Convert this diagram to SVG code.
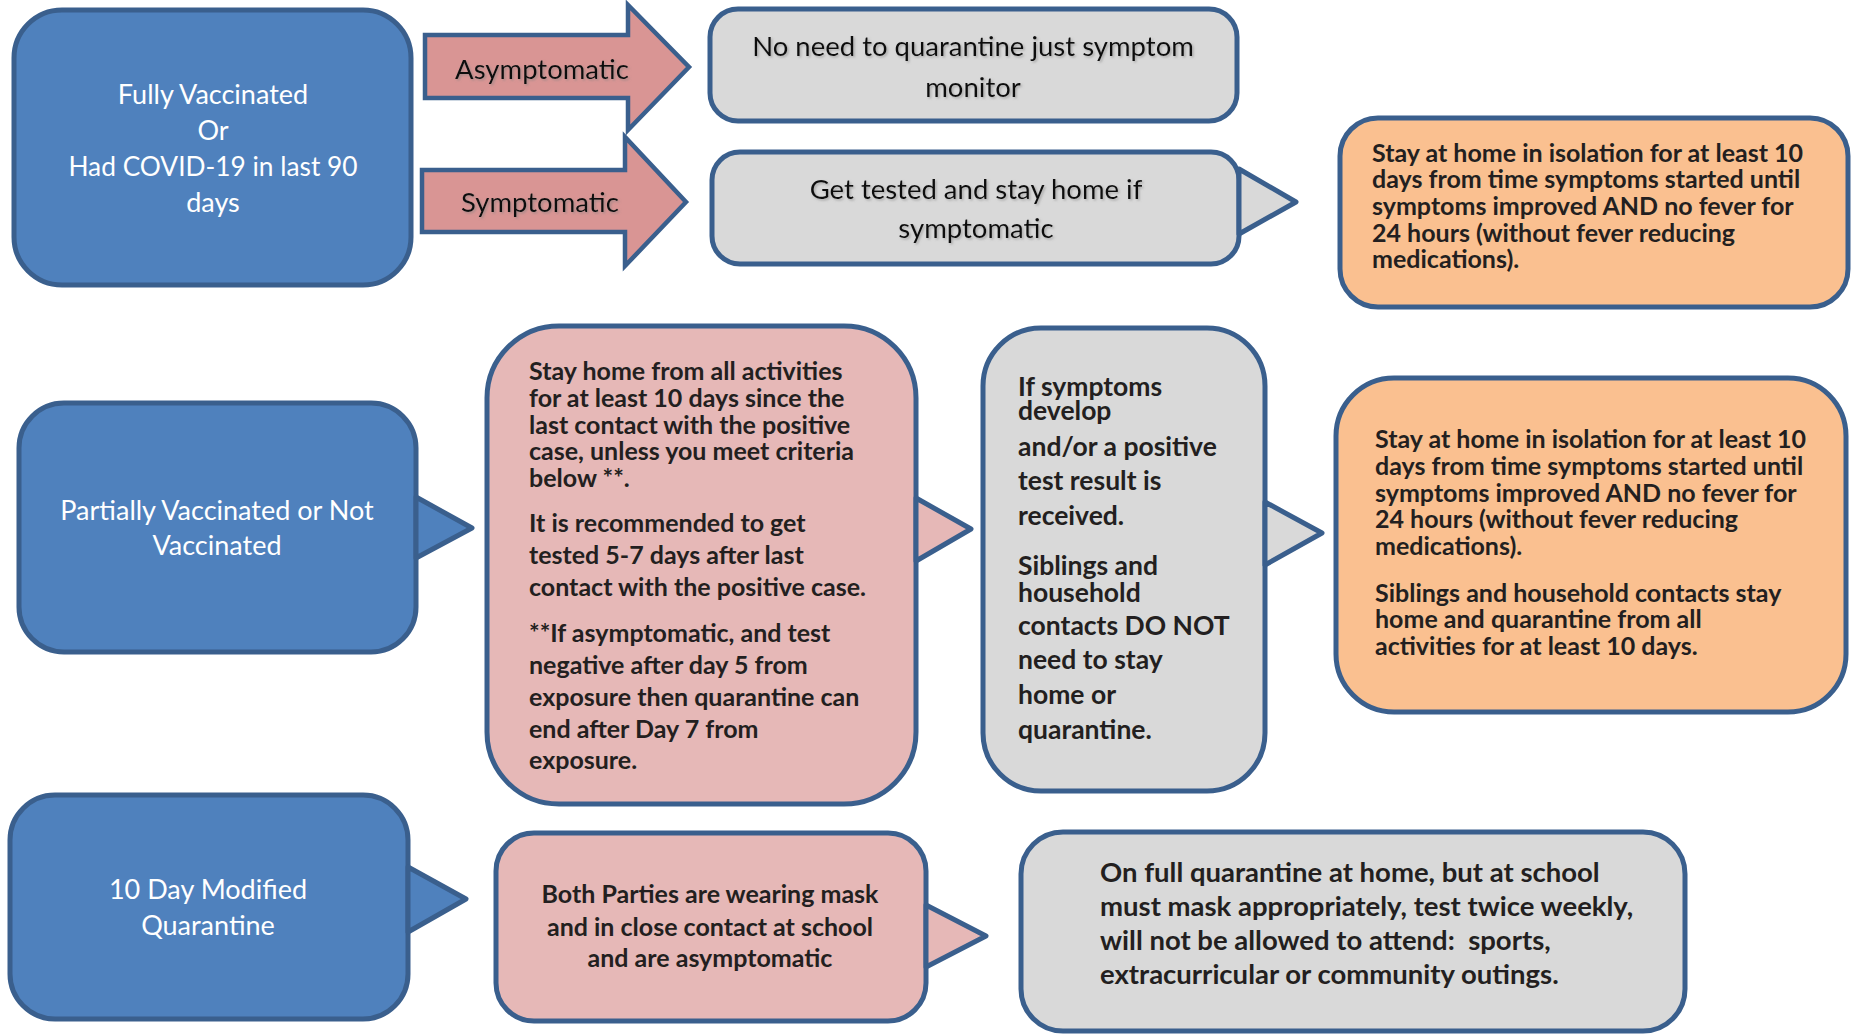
<svg xmlns="http://www.w3.org/2000/svg" width="1852" height="1034" viewBox="0 0 1852 1034">
<defs>
<style>
.box{stroke:#3A5F8D;stroke-width:5;stroke-linejoin:round}
.blue{fill:#4F81BD}
.gray{fill:#D9D9D9}
.pink{fill:#E6B8B7}
.orange{fill:#FAC090}
.arrow{fill:#D99594;stroke:#3A5F8D;stroke-width:4.5;stroke-linejoin:miter}
.wt{font-family:Lato,"Open Sans","Liberation Sans",sans-serif;font-size:27px;fill:#FFFFFF;text-anchor:middle}
.rt{font-family:Lato,"Open Sans","Liberation Sans",sans-serif;font-size:27.5px;fill:#111111;text-anchor:middle}
.bt{font-family:Lato,"Open Sans","Liberation Sans",sans-serif;font-size:25px;font-weight:bold;fill:#231F20}
.bm{font-family:Lato,"Open Sans","Liberation Sans",sans-serif;font-size:26.5px;font-weight:bold;fill:#231F20}
.btc{font-family:Lato,"Open Sans","Liberation Sans",sans-serif;font-size:25px;font-weight:bold;fill:#231F20;text-anchor:middle}
.bb{font-family:Lato,"Open Sans","Liberation Sans",sans-serif;font-size:27.5px;font-weight:bold;fill:#231F20;white-space:pre}
</style>
<filter id="ts" x="-5%" y="-20%" width="110%" height="140%">
<feDropShadow dx="1.5" dy="1.5" stdDeviation="1" flood-color="#7F7F7F" flood-opacity="0.55"/>
</filter>
</defs>
<rect width="1852" height="1034" fill="#FFFFFF"/>

<g id="connectors">
<g id="arrow-asymptomatic">
<polygon class="arrow" points="425,35 628,35 628,5 689,67 628,130 628,98 425,98"/>
<text class="rt" x="542" y="79" filter="url(#ts)">Asymptomatic</text>
</g>
<g id="arrow-symptomatic">
<polygon class="arrow" points="422,170 625,170 625,137 686,202 625,266 625,232 422,232"/>
<text class="rt" x="540" y="212" filter="url(#ts)">Symptomatic</text>
</g>
</g>

<g id="node-fully-vaccinated">
<rect class="box blue" x="14" y="10" width="397" height="275" rx="48"/>
<text class="wt" x="213" y="104">Fully Vaccinated</text>
<text class="wt" x="213" y="140">Or</text>
<text class="wt" x="213" y="176" style="font-size:26.3px">Had COVID-19 in last 90</text>
<text class="wt" x="213" y="212">days</text>
</g>

<g id="node-no-need">
<rect class="box gray" x="710" y="9" width="527" height="112" rx="28"/>
<text class="rt" x="973" y="56" filter="url(#ts)">No need to quarantine just symptom</text>
<text class="rt" x="973" y="97" filter="url(#ts)">monitor</text>
</g>

<g id="node-get-tested">
<rect class="box gray" x="712" y="152" width="527" height="112" rx="28"/>
<polygon class="box gray" points="1239,169 1296,202 1239,234"/>
<text class="rt" x="976" y="199" filter="url(#ts)">Get tested and stay home if</text>
<text class="rt" x="976" y="238" filter="url(#ts)">symptomatic</text>
</g>

<g id="node-isolation-1">
<rect class="box orange" x="1340" y="118" width="508" height="189" rx="38"/>
<text class="bt" x="1372" y="162">Stay at home in isolation for at least 10</text>
<text class="bt" x="1372" y="188">days from time symptoms started until</text>
<text class="bt" x="1372" y="215">symptoms improved AND no fever for</text>
<text class="bt" x="1372" y="242">24 hours (without fever reducing</text>
<text class="bt" x="1372" y="268">medications).</text>
</g>

<g id="node-partially-vaccinated">
<rect class="box blue" x="19" y="403" width="397" height="249" rx="45"/>
<polygon class="box blue" points="416,497 472,528 416,558"/>
<text class="wt" x="217" y="520">Partially Vaccinated or Not</text>
<text class="wt" x="217" y="555">Vaccinated</text>
</g>

<g id="node-stay-home">
<rect class="box pink" x="487" y="326" width="429" height="478" rx="72"/>
<polygon class="box pink" points="916,498 971,529 916,561"/>
<text class="bt" x="529" y="380">Stay home from all activities</text>
<text class="bt" x="529" y="407">for at least 10 days since the</text>
<text class="bt" x="529" y="434">last contact with the positive</text>
<text class="bt" x="529" y="460">case, unless you meet criteria</text>
<text class="bt" x="529" y="487">below **.</text>
<text class="bt" x="529" y="532">It is recommended to get</text>
<text class="bt" x="529" y="564">tested 5-7 days after last</text>
<text class="bt" x="529" y="596">contact with the positive case.</text>
<text class="bt" x="529" y="642">**If asymptomatic, and test</text>
<text class="bt" x="529" y="674">negative after day 5 from</text>
<text class="bt" x="529" y="706">exposure then quarantine can</text>
<text class="bt" x="529" y="738">end after Day 7 from</text>
<text class="bt" x="529" y="769">exposure.</text>
</g>

<g id="node-if-symptoms">
<rect class="box gray" x="983" y="328" width="282" height="463" rx="58"/>
<polygon class="box gray" points="1265,502 1322,533 1265,565"/>
<text class="bm" x="1018" y="396">If symptoms</text>
<text class="bm" x="1018" y="420">develop</text>
<text class="bm" x="1018" y="456">and/or a positive</text>
<text class="bm" x="1018" y="490">test result is</text>
<text class="bm" x="1018" y="525">received.</text>
<text class="bm" x="1018" y="575">Siblings and</text>
<text class="bm" x="1018" y="602">household</text>
<text class="bm" x="1018" y="635">contacts DO NOT</text>
<text class="bm" x="1018" y="669">need to stay</text>
<text class="bm" x="1018" y="704">home or</text>
<text class="bm" x="1018" y="739">quarantine.</text>
</g>

<g id="node-isolation-2">
<rect class="box orange" x="1336" y="378" width="510" height="334" rx="58"/>
<text class="bt" x="1375" y="448">Stay at home in isolation for at least 10</text>
<text class="bt" x="1375" y="475">days from time symptoms started until</text>
<text class="bt" x="1375" y="502">symptoms improved AND no fever for</text>
<text class="bt" x="1375" y="528">24 hours (without fever reducing</text>
<text class="bt" x="1375" y="555">medications).</text>
<text class="bt" x="1375" y="602">Siblings and household contacts stay</text>
<text class="bt" x="1375" y="628">home and quarantine from all</text>
<text class="bt" x="1375" y="655">activities for at least 10 days.</text>
</g>

<g id="node-modified-quarantine">
<rect class="box blue" x="10" y="795" width="398" height="224" rx="45"/>
<polygon class="box blue" points="408,867 466,899 408,932"/>
<text class="wt" x="208" y="899">10 Day Modified</text>
<text class="wt" x="208" y="935">Quarantine</text>
</g>

<g id="node-both-parties">
<rect class="box pink" x="496" y="833" width="430" height="188" rx="38"/>
<polygon class="box pink" points="926,905 986,936 926,967"/>
<text class="btc" x="710" y="903">Both Parties are wearing mask</text>
<text class="btc" x="710" y="936">and in close contact at school</text>
<text class="btc" x="710" y="967">and are asymptomatic</text>
</g>

<g id="node-full-quarantine">
<rect class="box gray" x="1021" y="832" width="664" height="199" rx="42"/>
<text class="bb" x="1100" y="882">On full quarantine at home, but at school</text>
<text class="bb" x="1100" y="916">must mask appropriately, test twice weekly,</text>
<text class="bb" x="1100" y="950" xml:space="preserve">will not be allowed to attend:  sports,</text>
<text class="bb" x="1100" y="984">extracurricular or community outings.</text>
</g>
</svg>
